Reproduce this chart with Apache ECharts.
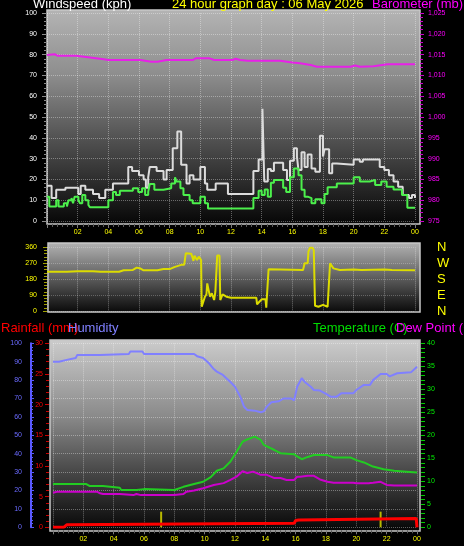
<!DOCTYPE html>
<html><head><meta charset="utf-8">
<script src="https://cdn.jsdelivr.net/npm/echarts@6/dist/echarts.min.js"></script>
<style>html,body{margin:0;padding:0;background:#000;overflow:hidden}#c{width:464px;height:546px}</style>
</head><body><div id="c"></div>
<script>
// ---- tick labels ----
const hourTicks = [2,4,6,8,10,12,14,16,18,20,22,24];
const hourLabels = ['02','04','06','08','10','12','14','16','18','20','22','00'];
const dirTicks = [0,90,180,270,360];
const dirNames = ['N','E','S','W','N'];

// ---- wind (kph): [hour, value], value holds until next point ----
const gust = [[0,17],[0.3,11],[0.6,15],[1.2,16],[2.04,13],[2.2,17],[2.5,15],[3.0,13],[3.4,11],[3.8,15],[4.3,18],[5.3,26],[5.55,24],[6.0,22],[6.3,20],[6.45,16],[6.6,21],[6.7,26],[7.15,24],[7.6,20],[7.8,24.5],[8.2,35],[8.5,43],[8.75,27],[9.1,18],[9.3,22],[9.55,20],[10.0,26],[10.3,18],[10.45,15],[11.0,18],[11.8,13],[13.46,24],[13.8,29.6],[14.05,54],[14.17,19],[14.4,25],[14.6,24],[14.8,28],[15.4,24.5],[15.65,19.7],[15.85,29],[16.1,35],[16.3,31],[16.4,24.5],[16.6,33],[16.8,26],[17.0,32],[17.25,25.3],[17.5,23.7],[17.8,41],[18.0,31],[18.1,34.5],[18.4,23],[18.6,27.7],[18.9,27],[20.0,29.6],[20.4,28.5],[20.6,29.6],[21.7,26],[22.0,24.5],[22.3,22],[22.6,19],[22.9,16.5],[23.2,12.5],[23.6,11],[23.8,12.5],[24.0,11]];
const speed = [[0,11.7],[0.15,7],[0.6,10],[0.75,7],[1.1,8.5],[1.3,7],[1.4,10],[1.6,11],[1.7,8.5],[1.8,11.7],[2.05,10],[2.15,8.5],[2.3,12.5],[2.5,10],[2.7,7.7],[2.8,6.6],[4.0,10],[4.3,14],[4.5,12.5],[4.75,14.5],[5.6,15.7],[5.95,14],[6.2,15.7],[6.4,12.5],[6.6,14],[6.7,17.8],[7.0,15],[7.6,15.7],[8.1,18],[8.35,21],[8.45,19],[8.7,15.7],[8.9,12.5],[9.3,10],[9.5,8.5],[10.0,11.7],[10.3,8.5],[10.5,6],[11.4,6],[13.46,11],[13.8,14.6],[14.0,12.5],[14.2,15.2],[14.4,11.7],[14.6,18.4],[14.8,19.7],[15.4,16],[15.6,14],[15.85,21],[16.1,25.3],[16.4,22],[16.6,15],[16.8,11.7],[17.0,11],[17.25,8.5],[17.5,10.4],[17.9,8.5],[18.1,13],[18.3,16.2],[18.9,18],[20.0,21],[20.4,19],[21.05,19.7],[21.4,17.3],[21.8,19],[22.15,16.5],[22.6,15.2],[23.15,12.5],[23.5,6.4],[24.0,6.4]];
// ---- barometer (mb) ----
const baro = [[0,1014.9],[0.5,1015.1],[0.7,1014.7],[1.9,1014.7],[2.8,1014.3],[3.7,1013.9],[4.0,1013.7],[6.1,1013.7],[6.8,1013.3],[7.2,1013.3],[7.8,1013.7],[9.5,1013.7],[9.7,1014.1],[10.6,1014.1],[10.9,1013.7],[12.1,1013.7],[12.3,1014.0],[12.6,1013.7],[13.1,1013.5],[15.2,1013.5],[16.0,1013.1],[16.5,1012.9],[17.2,1012.5],[17.6,1012.1],[19.8,1012.1],[20.1,1012.4],[20.4,1012.1],[21.3,1012.2],[22.2,1012.7],[24.0,1012.7]];
// ---- wind direction (deg) ----
const dir = [[0,222],[1.3,222],[1.4,226],[2.0,224],[3.0,224],[3.5,222],[4.7,222],[5.0,230],[5.6,232],[5.85,245],[6.1,240],[6.3,230],[7.2,230],[7.6,237],[8.0,237],[8.3,248],[8.8,262],[8.95,262],[9.05,326],[9.4,324],[9.5,300],[9.55,283],[9.62,313],[9.72,313],[9.78,288],[9.9,307],[10.0,307],[10.05,288],[10.09,24],[10.22,24],[10.3,81],[10.4,95],[10.45,156],[10.55,150],[10.63,81],[10.75,100],[10.85,100],[10.9,62],[10.98,109],[11.05,109],[11.1,313],[11.25,313],[11.3,62],[11.45,94],[11.7,81],[12.0,75],[13.65,75],[13.7,38],[13.85,52],[14.0,66],[14.25,66],[14.3,19],[14.4,19],[14.45,236],[16.7,232],[16.8,270],[17.0,270],[17.05,335],[17.15,358],[17.3,358],[17.4,345],[17.48,30],[17.7,24],[18.0,35],[18.1,43],[18.3,24],[18.4,24],[18.46,270],[18.68,241],[19.1,232],[20.0,235],[20.5,232],[22.0,234],[22.5,232],[24.0,230]];
// ---- humidity (%) ----
const humidity = [[0,90],[0.4,90],[0.5,91],[0.9,91],[1.0,92],[1.5,92],[1.6,93.7],[3.1,93.7],[3.2,94.2],[5.0,94.2],[5.1,95.5],[5.9,95.5],[6.0,94.2],[9.3,94.2],[9.5,93],[9.9,92],[10.3,89],[10.6,86],[10.8,84.6],[11.2,82.8],[11.7,79],[12.0,76.4],[12.35,71],[12.6,65.5],[12.8,63.8],[13.3,63.4],[13.7,62.5],[13.9,63],[14.1,65.6],[14.4,68],[14.9,68.5],[15.2,70],[15.7,70],[15.9,69],[16.1,76.4],[16.4,81],[16.6,79],[17.0,76.4],[17.2,74.6],[17.6,74.3],[18.0,72.5],[18.3,71],[18.7,71],[19.0,72.8],[19.8,72.8],[20.0,74.6],[20.5,77.4],[20.9,77.4],[21.1,80],[21.6,83.3],[22.0,83.3],[22.2,82],[22.7,83.7],[23.6,84.2],[24.0,87.3]];
// ---- temperature / dew point (C) ----
const temperature = [[0,9.4],[2.2,9.4],[2.4,9.0],[3.3,9.0],[3.4,8.6],[4.4,8.6],[4.5,8.1],[5.5,8.1],[5.6,8.3],[6.0,8.3],[6.1,8.1],[8.0,8.1],[8.1,8.5],[8.6,8.8],[9.3,9.4],[9.9,9.9],[10.4,10.9],[10.8,12.3],[11.25,12.8],[11.7,14.3],[12.1,16.4],[12.5,18.6],[12.8,19.1],[13.3,19.7],[13.7,19.0],[13.9,17.9],[14.6,16.8],[15.0,16.1],[15.9,15.9],[16.1,15.4],[16.4,14.8],[16.8,15.3],[17.2,15.7],[18.1,15.7],[18.5,15.2],[19.6,15.2],[20.0,14.6],[20.5,14.1],[21.1,13.2],[21.8,12.6],[22.5,12.3],[23.3,12.1],[24.0,11.9]];
const dewPoint = [[0,7.5],[0.3,7.75],[2.9,7.75],[3.1,7.4],[3.3,7.25],[4.4,7.25],[4.5,7.0],[5.3,7.0],[5.5,7.25],[5.8,7.0],[8.0,7.0],[8.1,7.25],[8.6,7.25],[8.8,7.75],[9.3,8.0],[9.9,8.5],[10.6,9.2],[11.25,9.6],[11.7,10.3],[12.1,11.0],[12.5,12.2],[12.8,11.8],[13.2,12.1],[13.7,11.4],[14.1,11.4],[14.6,10.7],[15.0,10.7],[15.4,10.3],[15.9,10.3],[16.1,11.0],[16.3,11.0],[16.8,11.2],[17.2,11.2],[17.6,10.4],[18.1,9.9],[18.5,9.7],[19.8,9.7],[20.0,9.6],[20.8,9.6],[21.1,9.7],[21.6,9.9],[22.0,9.2],[22.5,9.1],[24.0,9.1]];
// ---- rainfall (mm) and rain rate ----
const rainfall = [[0,0],[0.7,0],[0.9,0.4],[1.0,0.65],[15.9,0.65],[16.0,1.1],[16.2,1.2],[16.3,1.45],[23.95,1.45],[24.0,0]];
const rainRate = [[7.13,2.55],[21.6,2.55]];

const FONT = 'Liberation Sans, Arial, sans-serif';
const chart = echarts.init(document.getElementById('c'), null, {renderer:'canvas'});
const G = echarts.graphic.LinearGradient;
const xFmt = v => { const i = hourTicks.indexOf(v); return i >= 0 ? hourLabels[i] : ''; };
const dotted = {show:true, lineStyle:{type:'dotted', color:'rgba(255,255,255,0.35)', width:1}};

function xAx(grid, showLabels){
  return {type:'value', gridIndex:grid, min:0, max:24, interval:2,
    axisLine:{show:false, onZero:false}, offset:3,
    axisLabel:{show:showLabels, color:'#ffff00', fontSize:7, fontFamily:FONT, margin:5, formatter:xFmt, showMinLabel:false},
    axisTick:{show:showLabels, length:4, lineStyle:{color:'#7a7a7a'}},
    minorTick:{show:showLabels, splitNumber:6, length:3, lineStyle:{color:'#5a5a5a'}},
    splitLine:dotted};
}
function box(x,y,w,h,stops){
  return {type:'rect', z:-10, silent:true, shape:{x,y,width:w,height:h},
    style:{fill:new G(0,0,0,1,stops), stroke:'#c8c8c8', lineWidth:1.5}};
}
function txt(x,y,text,color,size){
  return {type:'text', z:10, silent:true, style:{x, y, text, fill:color, font:size+'px '+FONT, textVerticalAlign:'middle'}};
}

const option = {
  backgroundColor:'#000',
  animation:false,
  grid:[
    {left:47, top:13, width:368, height:208},
    {left:47, top:247.3, width:368, height:63.7},
    {left:53, top:343.3, width:364, height:184}
  ],
  graphic:{elements:[
    box(47,10,373,214,[{offset:0,color:'#b4b4b4'},{offset:0.3,color:'#8e8e8e'},{offset:0.6,color:'#525252'},{offset:1,color:'#060606'}]),
    box(48,243,372,69,[{offset:0,color:'#b4b4b4'},{offset:0.5,color:'#5e5e5e'},{offset:1,color:'#080808'}]),
    box(50,340,370,191,[{offset:0,color:'#cccccc'},{offset:0.4,color:'#8a8a8a'},{offset:0.7,color:'#454545'},{offset:1,color:'#050505'}]),
    txt(33,4,'Windspeed (kph)','#ffffff',13),
    txt(172,4,'24 hour graph day : 06 May 2026','#ffff00',13),
    txt(372,4,'Barometer (mb)','#ff00ff',13),
    txt(1,328,'Rainfall (mm)','#ff0000',13),
    txt(68,328,'Humidity','#8080ff',13),
    txt(313,328,'Temperature (C)','#00dd00',13),
    txt(396,328,'Dew Point (C)','#ff00ff',13)
  ]},
  xAxis:[ xAx(0,true), xAx(1,false), xAx(2,true) ],
  yAxis:[
    {type:'value', gridIndex:0, position:'left', min:0, max:100, interval:10,
      axisLine:{show:false, onZero:false}, axisLabel:{color:'#ffffff', fontSize:7, fontFamily:FONT, margin:10},
      axisTick:{show:true, length:5, lineStyle:{color:'#8a8a8a'}},
      minorTick:{show:true, splitNumber:5, length:3, lineStyle:{color:'#8a8a8a'}}, splitLine:dotted},
    {type:'value', gridIndex:0, position:'right', offset:5, min:975, max:1025, interval:5,
      axisLine:{show:false, onZero:false}, axisLabel:{color:'#ff00ff', fontSize:7, fontFamily:FONT, margin:8},
      axisTick:{show:true, length:4, lineStyle:{color:'#cc00cc'}},
      minorTick:{show:true, splitNumber:5, length:3, lineStyle:{color:'#cc00cc'}}, splitLine:{show:false}},
    {type:'value', gridIndex:1, position:'left', min:0, max:360, interval:90,
      axisLine:{show:false, onZero:false}, axisLabel:{color:'#ffff00', fontSize:7, fontFamily:FONT, margin:10},
      axisTick:{show:true, length:4, lineStyle:{color:'#a0a000'}},
      minorTick:{show:true, splitNumber:5, length:3, lineStyle:{color:'#a0a000'}},
      splitLine:{show:true, lineStyle:{type:'dotted', color:'rgba(255,255,255,0.25)'}}},
    {type:'value', gridIndex:1, position:'right', min:0, max:360, interval:90,
      axisLine:{show:false, onZero:false}, axisTick:{show:false}, splitLine:{show:false},
      axisLabel:{color:'#ffff00', fontSize:13, fontFamily:FONT, margin:22,
        formatter: v => { const i = dirTicks.indexOf(v); return i >= 0 ? dirNames[i] : ''; }}},
    {type:'value', gridIndex:2, position:'left', offset:22, min:0, max:100, interval:10,
      axisLine:{show:true, onZero:false, lineStyle:{color:'#5a5aff', width:2}},
      axisLabel:{color:'#6a6aff', fontSize:7, fontFamily:FONT, margin:9},
      axisTick:{show:true, inside:true, length:3, lineStyle:{color:'#5a5aff'}},
      minorTick:{show:true, splitNumber:5, length:2, lineStyle:{color:'#5a5aff'}}, splitLine:dotted},
    {type:'value', gridIndex:2, position:'left', offset:4, min:0, max:30, interval:5,
      axisLine:{show:false, onZero:false}, axisLabel:{color:'#ff0000', fontSize:7, fontFamily:FONT, margin:6},
      axisTick:{show:true, length:4, lineStyle:{color:'#cc0000'}},
      minorTick:{show:true, splitNumber:5, length:3, lineStyle:{color:'#cc0000'}}, splitLine:{show:false}},
    {type:'value', gridIndex:2, position:'right', offset:4, min:0, max:40, interval:5,
      axisLine:{show:false, onZero:false}, axisLabel:{color:'#00ee00', fontSize:7, fontFamily:FONT, margin:6},
      axisTick:{show:true, length:4, lineStyle:{color:'#00cc00'}},
      minorTick:{show:true, splitNumber:5, length:4, lineStyle:{color:'#00cc00'}}, splitLine:{show:false}}
  ],
  series:[
    {name:'Gust', type:'line', xAxisIndex:0, yAxisIndex:0, step:'end', showSymbol:false, data:gust,
      lineStyle:{color:'#dcdcdc', width:2}},
    {name:'Windspeed', type:'line', xAxisIndex:0, yAxisIndex:0, step:'end', showSymbol:false, data:speed,
      lineStyle:{color:'#4cf04c', width:2}},
    {name:'Barometer', type:'line', xAxisIndex:0, yAxisIndex:1, showSymbol:false, data:baro,
      lineStyle:{color:'#e820e8', width:2}},
    {name:'Direction', type:'line', xAxisIndex:1, yAxisIndex:2, showSymbol:false, data:dir,
      lineStyle:{color:'#dcdc00', width:2}},
    {name:'Humidity', type:'line', xAxisIndex:2, yAxisIndex:4, showSymbol:false, data:humidity,
      lineStyle:{color:'#8080ff', width:2}},
    {name:'Temperature', type:'line', xAxisIndex:2, yAxisIndex:6, showSymbol:false, data:temperature,
      lineStyle:{color:'#22cc22', width:2}},
    {name:'Dew Point', type:'line', xAxisIndex:2, yAxisIndex:6, showSymbol:false, data:dewPoint,
      lineStyle:{color:'#cc00cc', width:2}},
    {name:'Rain rate', type:'bar', xAxisIndex:2, yAxisIndex:5, barWidth:2, data:rainRate,
      itemStyle:{color:'#b8b800'}},
    {name:'Rainfall', type:'line', xAxisIndex:2, yAxisIndex:5, showSymbol:false, data:rainfall,
      lineStyle:{color:'#ff0000', width:3}}
  ]
};
chart.setOption(option);
</script>
</body></html>
